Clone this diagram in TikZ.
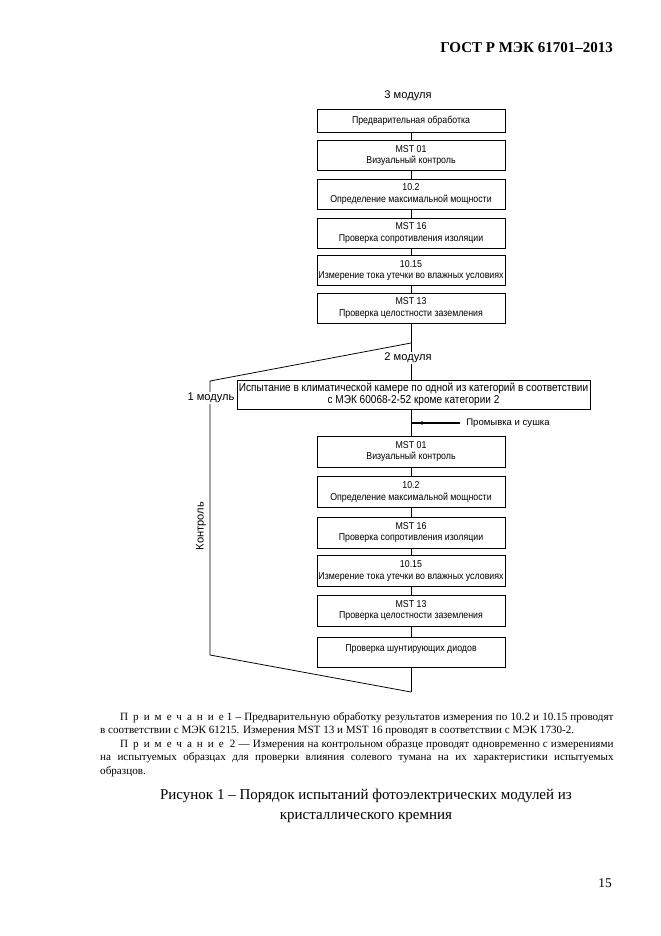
\documentclass[tikz,border=0pt]{standalone}
\usepackage{fontspec}
\setmainfont{Liberation Serif}
\newfontfamily\arialf{Liberation Sans}
\newfontfamily\narrowf[FakeStretch=0.88]{Liberation Sans}
\begin{document}
\begin{tikzpicture}[x=0.9pt,y=-0.9pt,
  conn/.style={line width=0.7pt},
  tbox/.style={draw, line width=0.7pt, minimum width=169.2pt, minimum height=27pt,
    inner sep=1pt, align=center, font=\narrowf\fontsize{9}{10}\selectfont},
  lbl/.style={font=\arialf\fontsize{10}{12}\selectfont, inner sep=1pt},
  wlbl/.style={lbl, fill=white}
]
\useasboundingbox (0,0) rectangle (661,936);

% header
\node[anchor=east, font=\bfseries\fontsize{13.5}{16}\selectfont, inner sep=0pt] (hdr) at (613,48) {ГОСТ Р МЭК 61701--2013};

% top chain
\node[lbl] (m3) at (408,96) {3 модуля};
\node[tbox, minimum height=20.7pt] (b1) at (411,120.5) {Предварительная обработка};
\node[tbox] (b2) at (411,155.5) {MST 01\\Визуальный контроль};
\node[tbox] (b3) at (411,194) {10.2\\Определение максимальной мощности};
\node[tbox] (b4) at (411,233) {MST 16\\Проверка сопротивления изоляции};
\node[tbox] (b5) at (411,270.5) {10.15\\Измерение тока утечки во влажных условиях};
\node[tbox] (b6) at (411,308) {MST 13\\Проверка целостности заземления};
\foreach \a/\b in {b1/b2,b2/b3,b3/b4,b4/b5,b5/b6} \draw[conn] (\a.south) -- (\b.north);

% climate box
\node[tbox, minimum width=317.7pt, minimum height=26.1pt, font=\narrowf\fontsize{10.3}{11}\selectfont] (clim) at (413.5,394.5)
  {Испытание в климатической камере по одной из категорий в соответствии\\с МЭК 60068-2-52 кроме категории 2};
\draw[conn] (b6.south) -- (b6.south |- clim.north);

% branch
\coordinate (j1) at (411,343);
\coordinate (lt) at (210,381);
\coordinate (lb) at (210,655);
\coordinate (j2) at (411,692);
\draw[conn] (j1) -- (lt) -- (lb) -- (j2);
\node[wlbl] (m2) at (408,358) {2 модуля};
\node[wlbl] (m1) at (211,398) {1 модуль};
\node[lbl, rotate=90] (ktr) at (201,526) {Контроль};

% lower chain
\node[tbox, minimum height=27.9pt] (l1) at (411,451.5) {MST 01\\Визуальный контроль};
\node[tbox, minimum height=27.9pt] (l2) at (411,492) {10.2\\Определение максимальной мощности};
\node[tbox, minimum height=27.9pt] (l3) at (411,532.5) {MST 16\\Проверка сопротивления изоляции};
\node[tbox, minimum height=27.9pt] (l4) at (411,571) {10.15\\Измерение тока утечки во влажных условиях};
\node[tbox, minimum height=27.9pt] (l5) at (411,610.5) {MST 13\\Проверка целостности заземления};
\node[tbox, minimum height=27pt, text height=6.5pt, text depth=8pt] (l6) at (411,652) {Проверка шунтирующих диодов};
\draw[conn] (l1.north |- clim.south) -- (l1.north);
\foreach \a/\b in {l1/l2,l2/l3,l3/l4,l4/l5,l5/l6} \draw[conn] (\a.south) -- (\b.north);
\draw[conn] (l6.south) -- (j2);

% washing
\coordinate (pw) at (411,423);
\node[lbl, anchor=west, font=\arialf\fontsize{8.6}{11}\selectfont] (pwt) at (465,423) {Промывка и сушка};
\draw[line width=1.5pt] (pw) -- (460,423);
\fill (422,423) circle (1.7pt);

% notes
\node[anchor=north west, text width=462pt, align=justify, inner sep=0pt,
  font=\fontsize{10}{12.2}\selectfont] (notes) at (100,712) {%
\hspace*{18pt}{\addfontfeatures{LetterSpace=45}Примечание} 1 -- Предварительную обработку результатов измерения по 10.2 и 10.15 проводят\linebreak в~соответствии с МЭК 61215. Измерения MST 13 и MST 16 проводят в соответствии с МЭК 1730-2.\par
\hspace*{18pt}{\addfontfeatures{LetterSpace=45}Примечание} \ 2 --- Измерения на контрольном образце проводят одновременно с измерениями\linebreak на испытуемых образцах для проверки влияния солевого тумана на их характеристики испытуемых\linebreak образцов.\par};

% caption
\node[align=center, inner sep=0pt, font=\fontsize{13.5}{18}\selectfont] (cap) at (366,806)
  {Рисунок 1 -- Порядок испытаний фотоэлектрических модулей из\\кристаллического кремния};

% page number
\node[inner sep=0pt, font=\fontsize{12}{14}\selectfont] (pg) at (605,883) {15};
\end{tikzpicture}
\end{document}
